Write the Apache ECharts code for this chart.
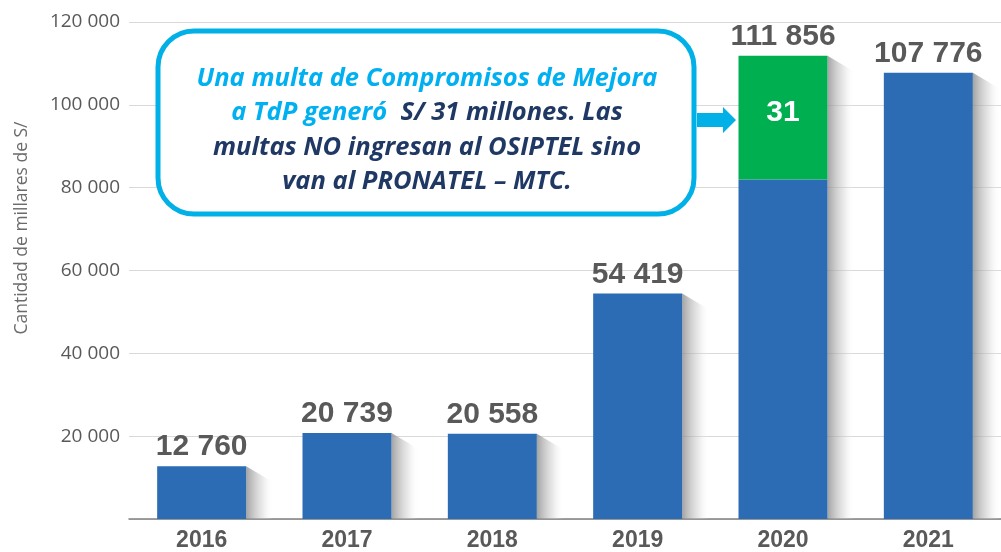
<!DOCTYPE html>
<html>
<head>
<meta charset="utf-8">
<title>Multas</title>
<script src="https://cdn.jsdelivr.net/npm/echarts@6/dist/echarts.min.js"></script>
<style>
  html, body { margin: 0; padding: 0; background: #ffffff; }
  #chart { width: 1001px; height: 552px; }
</style>
</head>
<body>
<div id="chart"></div>
<script>
const years = ['2016', '2017', '2018', '2019', '2020', '2021']
const totals = [12760, 20739, 20558, 54419, 111856, 107776]
const baseValues = [12760, 20739, 20558, 54419, 82000, 107776]
const mejoraValues = ['-', '-', '-', '-', 29856, '-']
const mejoraLabel = '31'
const yTickLabels = ['', '20 000', '40 000', '60 000', '80 000', '100 000', '120 000']

const chart = echarts.init(document.getElementById('chart'))

const cyan = '#00B0E6'
const navy = '#1F3864'
const labelGray = '#595959'
const calloutFont = 'italic bold 25.5px "Open Sans", sans-serif'

// sombra gris a la derecha de cada barra + etiqueta del total
const shadowItem = (params, api) => {
  const idx = api.value(0)
  const top = api.coord([idx, api.value(1)])
  const bottom = api.coord([idx, 0])
  const halfBar = 44.5
  const xr = top[0] + halfBar
  const w = 27
  return {
    type: 'group',
    children: [
      {
        type: 'polygon',
        shape: {
          points: [[xr, top[1]], [xr + w, top[1] + 16], [xr + w, bottom[1]], [xr, bottom[1]]]
        },
        style: {
          fill: new echarts.graphic.LinearGradient(0, 0, 1, 0, [
            { offset: 0, color: 'rgba(140,140,140,0.8)' },
            { offset: 0.6, color: 'rgba(200,200,200,0.4)' },
            { offset: 1, color: 'rgba(255,255,255,0)' }
          ])
        }
      },
      {
        type: 'text',
        z2: 10,
        style: {
          text: api.value(1).toLocaleString('en-US').replace(/,/g, ' '),
          x: top[0],
          y: top[1] - 4,
          align: 'center',
          verticalAlign: 'bottom',
          font: 'bold 30px "Liberation Sans", Arial, sans-serif',
          fill: labelGray
        }
      }
    ]
  }
}

const option = {
  animation: false,
  backgroundColor: '#ffffff',
  grid: {
    left: 129,
    top: 22,
    width: 875,
    height: 498
  },
  xAxis: {
    type: 'category',
    data: years,
    axisLine: { show: true, lineStyle: { color: '#808080', width: 1.5 } },
    axisTick: { show: false },
    axisLabel: {
      margin: 10,
      color: labelGray,
      fontFamily: '"Liberation Sans", Arial, sans-serif',
      fontWeight: 'bold',
      fontSize: 23
    }
  },
  yAxis: {
    type: 'value',
    min: 0,
    max: 120000,
    interval: 20000,
    axisLine: { show: false },
    axisTick: { show: false },
    splitLine: { lineStyle: { color: '#D9D9D9', width: 1 } },
    axisLabel: {
      margin: 9,
      color: '#595959',
      fontFamily: '"Open Sans", sans-serif',
      fontSize: 19,
      formatter: v => yTickLabels[Math.round(v / 20000)]
    }
  },
  series: [
    {
      type: 'custom',
      z: 1,
      renderItem: shadowItem,
      data: totals.map((v, i) => [i, v])
    },
    {
      name: 'Multas',
      type: 'bar',
      stack: 'total',
      z: 2,
      barWidth: 89,
      itemStyle: { color: '#2B6CB4' },
      data: baseValues
    },
    {
      name: 'Compromisos de Mejora',
      type: 'bar',
      stack: 'total',
      z: 2,
      barWidth: 89,
      itemStyle: { color: '#00B050' },
      label: {
        show: true,
        position: 'inside',
        offset: [0, -5],
        formatter: mejoraLabel,
        color: '#ffffff',
        fontFamily: '"Liberation Sans", Arial, sans-serif',
        fontWeight: 'bold',
        fontSize: 30
      },
      data: mejoraValues
    }
  ],
  graphic: [
    {
      type: 'text',
      x: 22,
      y: 228,
      rotation: Math.PI / 2,
      style: {
        text: 'Cantidad de millares de S/',
        align: 'center',
        verticalAlign: 'middle',
        font: '17.5px "Open Sans", sans-serif',
        fill: '#6b6b6b'
      }
    },
    {
      type: 'rect',
      z: 20,
      shape: { x: 158, y: 31, width: 536, height: 183, r: 36 },
      style: { fill: '#ffffff', stroke: cyan, lineWidth: 5 }
    },
    {
      type: 'polygon',
      z: 20,
      shape: {
        points: [[697, 113], [723, 113], [723, 107], [736, 120], [723, 133], [723, 127], [697, 127]]
      },
      style: { fill: cyan }
    },
    {
      type: 'text',
      z: 21,
      x: 427,
      y: 130,
      style: {
        text: '{c|Una multa de Compromisos de Mejora}\n{c|a TdP generó}  {n|S/ 31 millones. Las}\n{n|multas NO ingresan al OSIPTEL sino}\n{n|van al PRONATEL – MTC.}',
        align: 'center',
        verticalAlign: 'middle',
        rich: {
          c: { fill: '#00B0F0', font: calloutFont, lineHeight: 34.5 },
          n: { fill: navy, font: calloutFont, lineHeight: 34.5 }
        },
        font: calloutFont,
        fill: navy
      }
    }
  ]
}

chart.setOption(option)
</script>
</body>
</html>
